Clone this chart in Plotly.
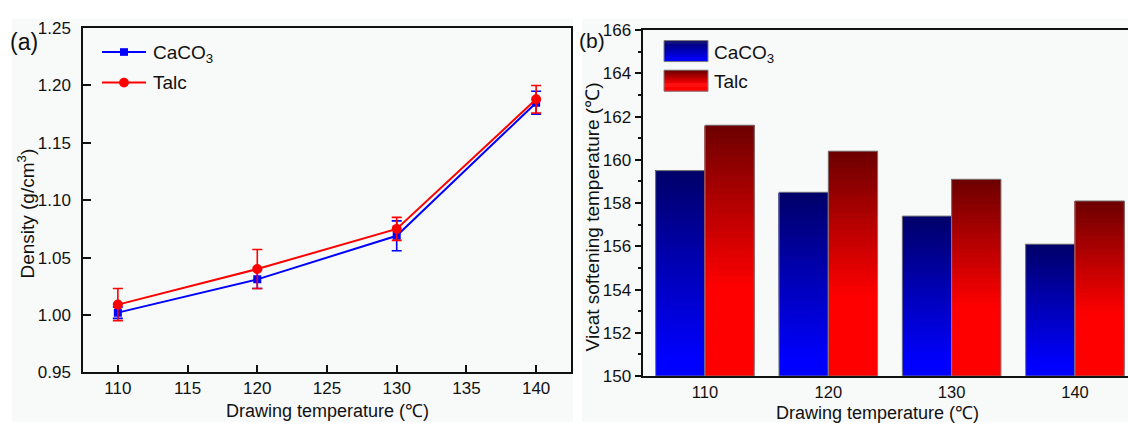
import plotly.graph_objects as go

# ---------------- data ----------------
temps_a = [110, 120, 130, 140]
caco3_density = [1.002, 1.031, 1.069, 1.185]
caco3_err = [0.005, 0.008, 0.013, 0.010]
talc_density = [1.009, 1.040, 1.075, 1.188]
talc_err = [0.014, 0.017, 0.010, 0.012]

categories_b = ["110", "120", "130", "140"]
caco3_vicat = [159.5, 158.5, 157.4, 156.1]
talc_vicat = [161.6, 160.4, 159.1, 158.1]

W, H = 1128, 432
FONT = "Arial, Liberation Sans, sans-serif"
TXT = "#111111"
BG = "#f8f9f9"


def fx(p):
    return p / W


def fy(p):
    return 1 - p / H


def lerp_col(c0, c1, t):
    t = max(0.0, min(1.0, t))
    return "rgb(%d,%d,%d)" % tuple(round(a + (b - a) * t) for a, b in zip(c0, c1))


def blue_col(f):
    return lerp_col((0, 0, 255), (0, 0, 104), (f - 0.08) / 0.92)


def red_col(f):
    return lerp_col((255, 0, 0), (108, 0, 0), (f - 0.35) / 0.65)


fig = go.Figure()

# ---------------- panel (a) ----------------
fig.add_trace(go.Scatter(
    x=temps_a, y=caco3_density, mode="lines+markers", name="CaCO<sub>3</sub>",
    line=dict(color="#0000ff", width=2),
    marker=dict(symbol="square", size=8, color="#0000ff"),
    error_y=dict(type="data", array=caco3_err, color="#0000ff", thickness=1.6, width=5),
    xaxis="x", yaxis="y", showlegend=False))
fig.add_trace(go.Scatter(
    x=temps_a, y=talc_density, mode="lines+markers", name="Talc",
    line=dict(color="#ff0000", width=2),
    marker=dict(symbol="circle", size=10, color="#ff0000"),
    error_y=dict(type="data", array=talc_err, color="#ff0000", thickness=1.6, width=5),
    xaxis="x", yaxis="y", showlegend=False))

# ---------------- panel (b): gradient bars ----------------
N = 40
BASE = 150.0
for name, vals, colf in (("CaCO3", caco3_vicat, blue_col), ("Talc", talc_vicat, red_col)):
    heights = [v - BASE for v in vals]
    for k in range(N):
        f = (k + 0.5) / N
        fig.add_trace(go.Bar(
            x=categories_b,
            base=[BASE + h * k / N for h in heights],
            y=[h * (N - k) / N for h in heights],
            offsetgroup=name, marker=dict(color=colf(f), line=dict(width=0)),
            xaxis="x2", yaxis="y2", showlegend=False, hoverinfo="skip"))
    fig.add_trace(go.Bar(
        x=categories_b, base=[BASE] * len(vals), y=heights, name=name,
        offsetgroup=name,
        marker=dict(color="rgba(0,0,0,0)", line=dict(width=1, color="#808080")),
        xaxis="x2", yaxis="y2", showlegend=False))

shapes = []
# panel backgrounds
shapes.append(dict(type="rect", xref="paper", yref="paper", x0=fx(12), x1=fx(573),
                   y0=fy(432), y1=fy(10), fillcolor=BG, line=dict(width=0), layer="below"))
shapes.append(dict(type="rect", xref="paper", yref="paper", x0=fx(582), x1=fx(1128),
                   y0=fy(432), y1=fy(10), fillcolor=BG, line=dict(width=0), layer="below"))

# legend (a)
for yy, col in ((45, "#0000ff"), (77, "#ff0000")):
    shapes.append(dict(type="line", xref="paper", yref="paper", x0=fx(102), x1=fx(146),
                       y0=fy(yy), y1=fy(yy), line=dict(color=col, width=2)))
shapes.append(dict(type="rect", xref="paper", yref="paper", x0=fx(120), x1=fx(128),
                   y0=fy(49), y1=fy(41), fillcolor="#0000ff", line=dict(width=0)))
shapes.append(dict(type="circle", xref="paper", yref="paper", x0=fx(119), x1=fx(129),
                   y0=fy(82), y1=fy(72), fillcolor="#ff0000", line=dict(width=0)))

# legend (b) gradient swatches
for (top, bot), colf in (((33, 55), blue_col), ((64, 86), red_col)):
    M = 22
    for k in range(M):
        y_lo = bot - (bot - top) * k / M
        y_hi = bot - (bot - top) * (k + 1) / M
        shapes.append(dict(type="rect", xref="paper", yref="paper", x0=fx(664), x1=fx(708),
                           y0=fy(y_lo + 0.3), y1=fy(y_hi - 0.3),
                           fillcolor=colf((k + 0.5) / M), line=dict(width=0)))
    shapes.append(dict(type="rect", xref="paper", yref="paper", x0=fx(664), x1=fx(708),
                       y0=fy(bot), y1=fy(top), line=dict(color="#808080", width=1)))


def ann(text, x, y, size=17, xanchor="center", angle=0):
    return dict(text=text, x=fx(x), y=fy(y), xref="paper", yref="paper",
                xanchor=xanchor, yanchor="middle", textangle=angle, showarrow=False,
                font=dict(size=size, family=FONT, color=TXT))


annotations = [
    ann("(a)", 24, 34, size=23),
    ann("(b)", 592, 33, size=21),
    ann("CaCO<sub>3</sub>", 151, 47, size=19, xanchor="left"),
    ann("Talc", 151, 77, size=19, xanchor="left"),
    ann("CaCO<sub>3</sub>", 712, 47, size=19, xanchor="left"),
    ann("Talc", 712, 76, size=19, xanchor="left"),
    ann("Drawing temperature (℃)", 327, 421, size=18),
    ann("Drawing temperature (℃)", 877, 423, size=18),
    ann("Density (g/cm<sup>3</sup>)", 26, 214, size=19, angle=-90),
    ann("Vicat softening temperature (℃)", 592, 218, size=19, angle=-90),
]

axis_common = dict(showgrid=False, zeroline=False, linecolor="#111111", linewidth=1.5,
                   tickcolor="#111111", tickfont=dict(size=17, family=FONT, color=TXT))

fig.update_layout(
    width=W, height=H, margin=dict(l=0, r=0, t=0, b=0),
    paper_bgcolor="white", plot_bgcolor="rgba(0,0,0,0)",
    showlegend=False, barmode="group", bargap=0.2, bargroupgap=0,
    xaxis=dict(domain=[fx(83), fx(571)], range=[107.5, 142.5], anchor="y",
               tickvals=[110, 115, 120, 125, 130, 135, 140], ticks="inside", ticklen=8,
               tickwidth=1.5, showline=True, mirror=True, ticklabelstandoff=0,
               **axis_common),
    yaxis=dict(domain=[fy(380), fy(20)], range=[0.95, 1.25], anchor="x",
               tickvals=[0.95, 1.00, 1.05, 1.10, 1.15, 1.20, 1.25], tickformat=".2f",
               ticks="inside", ticklen=8, tickwidth=1.5, showline=True, mirror=True,
               ticklabelstandoff=7, **axis_common),
    xaxis2=dict(domain=[fx(643.3), 1.0], range=[-0.5, 3.43], anchor="y2", type="category",
                ticks="", showline=True, mirror=True, ticklabelstandoff=0,
                showgrid=False, zeroline=False, linecolor="#111111", linewidth=1.5,
                tickfont=dict(size=16.5, family=FONT, color=TXT)),
    yaxis2=dict(domain=[fy(384), fy(22)], range=[150, 166], anchor="x2",
                tickvals=[150, 152, 154, 156, 158, 160, 162, 164, 166],
                ticks="outside", ticklen=7, tickwidth=1.5, showline=True, mirror=False,
                minor=dict(dtick=1, ticks="outside", ticklen=4, tickcolor="#111111"),
                **axis_common),
    shapes=shapes, annotations=annotations,
)

fig.write_html("out.html")
